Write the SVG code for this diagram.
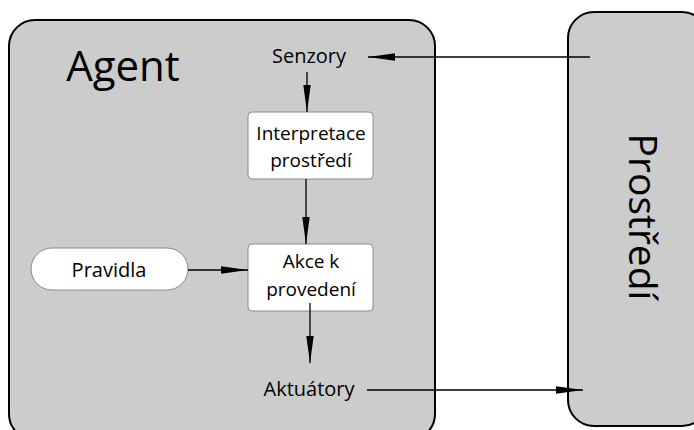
<svg xmlns="http://www.w3.org/2000/svg" width="694" height="430" viewBox="0 0 694 430">
  <style>
    .panel { fill: #cccccc; stroke: #000000; stroke-width: 2; }
    .box { fill: #ffffff; stroke: #8a8a8a; stroke-width: 1; }
    .lbl { font-family: "Open Sans", "Noto Sans", sans-serif; font-size: 20px; fill: #000000; text-anchor: middle; }
    .in { font-size: 19px; }
    .edge { stroke: #000000; stroke-width: 1.3; fill: none; marker-end: url(#arrow); }
  </style>
  <defs>
    <marker id="arrow" markerUnits="userSpaceOnUse" markerWidth="28" markerHeight="9" refX="27" refY="4.5" orient="auto">
      <path d="M0,0.8 L27,4.5 L0,8.2 Z" fill="#000000"/>
    </marker>
  </defs>
  <rect width="694" height="430" fill="#ffffff"/>

  <!-- agent panel -->
  <g id="agent">
    <rect class="panel" x="9" y="20" width="426" height="420" rx="26" ry="26"/>
    <text x="123" y="81" font-family="'Open Sans', 'Noto Sans', sans-serif" font-size="42" text-anchor="middle" fill="#000">Agent</text>
  </g>

  <!-- environment panel -->
  <g id="prostredi">
    <rect class="panel" x="568" y="12" width="140" height="414" rx="26" ry="26"/>
    <text transform="translate(629,217) rotate(90)" font-family="'Open Sans', 'Noto Sans', sans-serif" font-size="39" text-anchor="middle" fill="#000">Prostředí</text>
  </g>

  <g id="senzory">
    <text class="lbl" x="309" y="63">Senzory</text>
  </g>

  <g id="interpretace">
    <rect class="box" x="248" y="112" width="125" height="67" rx="4" ry="4"/>
    <text class="lbl in" x="311" y="140">Interpretace</text>
    <text class="lbl in" x="311" y="167">prostředí</text>
  </g>

  <g id="akce">
    <rect class="box" x="248" y="244" width="125" height="67" rx="4" ry="4"/>
    <text class="lbl in" x="311" y="268">Akce k</text>
    <text class="lbl in" x="311" y="296">provedení</text>
  </g>

  <g id="pravidla">
    <rect class="box" x="31" y="248" width="157" height="42" rx="21" ry="21"/>
    <text class="lbl" x="109" y="277">Pravidla</text>
  </g>

  <g id="aktuatory">
    <text class="lbl" x="309" y="396">Aktuátory</text>
  </g>

  <!-- connectors -->
  <g id="connectors">
    <line class="edge" x1="590" y1="57" x2="368" y2="57"/>
    <line class="edge" x1="307" y1="72" x2="307" y2="112"/>
    <line class="edge" x1="306" y1="179" x2="306" y2="244"/>
    <line class="edge" x1="188" y1="270" x2="248" y2="270"/>
    <line class="edge" x1="310" y1="303" x2="310" y2="363"/>
    <line class="edge" x1="367" y1="390" x2="583" y2="390"/>
  </g>
</svg>
